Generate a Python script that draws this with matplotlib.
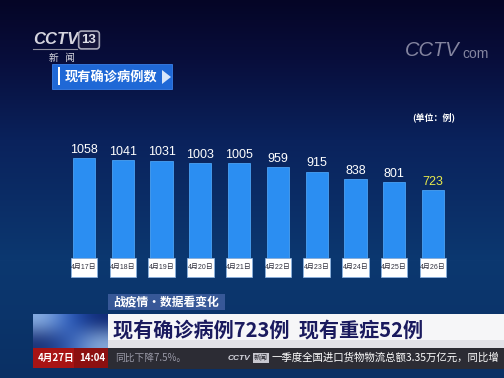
import numpy as np
import matplotlib.pyplot as plt
from matplotlib.patches import Rectangle, Polygon
from matplotlib.transforms import blended_transform_factory

plt.rcParams['font.family'] = ['Noto Sans CJK SC', 'DejaVu Sans']

dates = ['4月17日', '4月18日', '4月19日', '4月20日', '4月21日',
         '4月22日', '4月23日', '4月24日', '4月25日', '4月26日']
cases = [1058, 1041, 1031, 1003, 1005, 959, 915, 838, 801, 723]
title = '现有确诊病例数'
unit = '(单位：例)'
tag = '战疫情·数据看变化'
headline = '现有确诊病例723例  现有重症52例'
ticker_prev = '同比下降7.5%。'
ticker_next = '一季度全国进口货物物流总额3.35万亿元，同比增'

LAT = ['Liberation Sans', 'Noto Sans CJK SC']

W, H = 504, 378
fig = plt.figure(figsize=(W / 100, H / 100), dpi=100)

# background gradient
bg = fig.add_axes([0, 0, 1, 1], zorder=0)
stops_y = [0, 60, 140, 260, 378]
stops_c = np.array([[5, 5, 38], [8, 14, 60], [10, 34, 92], [12, 56, 112], [10, 48, 100]]) / 255
yy = np.arange(H)
grad = np.stack([np.interp(yy, stops_y, stops_c[:, k]) for k in range(3)], axis=1)
bg.imshow(grad[:, None, :], aspect='auto', extent=[0, W, H, 0])
bg.set_xlim(0, W)
bg.set_ylim(H, 0)
bg.axis('off')

# bar chart
ax = fig.add_axes([64.6 / W, 1 - 258 / H, 387.8 / W, 113.4 / H], zorder=1)
ax.patch.set_alpha(0)
x = np.arange(len(cases))
ax.bar(x, cases, width=0.57, color='#2b8ef2', edgecolor='#4aa2f5', linewidth=0.6)
ax.set_xlim(-0.5, len(cases) - 0.5)
ax.set_ylim(0, 1200)
ax.axis('off')

for i, v in enumerate(cases):
    col = '#e8ea4c' if i == len(cases) - 1 else 'white'
    ax.annotate(str(v), (i, v), xytext=(0, 1.5), textcoords='offset points',
                ha='center', va='bottom', fontsize=9, color=col, family=LAT)

tr = blended_transform_factory(ax.transData, ax.transAxes)
bh = 19 / 113.4
for i, d in enumerate(dates):
    ax.add_patch(Rectangle((i - 0.34, -bh), 0.68, bh, transform=tr, clip_on=False,
                           facecolor='white', edgecolor='#8fb8e8', linewidth=0.5))
    ax.text(i, -bh / 2, d, transform=tr, ha='center', va='center', fontsize=5,
            color='#333340', family=LAT)

# overlay in pixel coordinates
ov = fig.add_axes([0, 0, 1, 1], zorder=2)
ov.patch.set_alpha(0)
ov.set_xlim(0, W)
ov.set_ylim(H, 0)
ov.axis('off')

# channel logo
ov.text(33, 40, 'CCTV', fontsize=12, fontweight='bold', style='italic', color='#d4d4de',
        va='center', ha='left', family=LAT)
ov.text(89, 40, '13', fontsize=9.5, fontweight='bold', color='#e0e0e8', va='center', ha='center',
        family=LAT,
        bbox=dict(boxstyle='round,pad=0.22', facecolor='#15153a', edgecolor='#a8a8b8', linewidth=1.2))
ov.plot([33, 77], [49, 49], color='#9090a0', linewidth=0.8)
ov.text(49, 58.5, '新   闻', fontsize=7, color='#d8d8e0', va='center', ha='left')

# cctv.com watermark
ov.text(405, 50, 'CCTV', fontsize=14.5, style='italic', color='#9a9ab2',
        alpha=0.85, va='center', ha='left', family=LAT)
ov.text(462, 54, 'com', fontsize=10, color='#9a9ab2', alpha=0.85, va='center', ha='left',
        family=LAT)

# title box
ov.add_patch(Rectangle((52, 64), 120, 25, facecolor='#1f68d6', edgecolor='#3a80e8', linewidth=0.6))
ov.add_patch(Rectangle((58, 67), 2, 18, facecolor='white', edgecolor='none'))
ov.text(65, 76.5, title, fontsize=9.5, fontweight='bold', color='white', va='center', ha='left')
ov.add_patch(Polygon([[162, 70], [162, 84], [171, 77]], closed=True, facecolor='#d8e6fa',
                     edgecolor='none'))

ov.text(434, 117, unit, fontsize=6.5, fontweight='bold', color='white', va='center', ha='center')

# lower third
ov.add_patch(Rectangle((108, 294), 117, 16, facecolor='#3d5c9c', edgecolor='none', alpha=0.9))
ov.text(113, 302, tag, fontsize=8.5, fontweight='bold', color='white', va='center', ha='left')

ov.add_patch(Rectangle((108, 314), W - 108, 34, facecolor='#f6f6f8', edgecolor='none'))
ov.add_patch(Rectangle((108, 340), W - 108, 8, facecolor='#e2e2e8', edgecolor='none'))
globe = np.array([[0.55, 0.70, 0.90], [0.15, 0.35, 0.75], [0.05, 0.15, 0.45]])
ov.imshow(np.stack([globe, globe[::-1] * 0.9 + 0.05], axis=0), extent=[33, 108, 348, 314],
          aspect='auto', interpolation='bicubic', zorder=1)
ov.text(113, 331.5, headline, fontsize=14.5, fontweight='bold', color='#1a1a5e',
        va='center', ha='left')

# ticker
ov.add_patch(Rectangle((33, 348), 75, 20, facecolor='#a81414', edgecolor='none'))
ov.add_patch(Rectangle((74, 348), 34, 20, facecolor='#8c1010', edgecolor='none'))
ov.add_patch(Rectangle((108, 348), W - 108, 21, facecolor='#2c2c34', edgecolor='none'))
ov.text(38, 358, '4月27日', fontsize=7, fontweight='bold', color='white', va='center', ha='left')
ov.text(79, 358, '14:04', fontsize=7, fontweight='bold', color='white', va='center', ha='left')
ov.text(115, 358, ticker_prev, fontsize=7, color='#9a9aa8', va='center', ha='left')
ov.text(228, 358, 'CCTV', fontsize=6, fontweight='bold', style='italic', color='#d8d8e0',
        va='center', ha='left', family=LAT)
ov.text(254, 358, '新闻', fontsize=5, color='#2c2c34', va='center', ha='left',
        bbox=dict(boxstyle='square,pad=0.15', facecolor='#c8c8d0', edgecolor='none'))
ov.text(272, 358, ticker_next, fontsize=7.5, color='white', va='center', ha='left', clip_on=True)

fig.savefig('out.png', dpi=100)
